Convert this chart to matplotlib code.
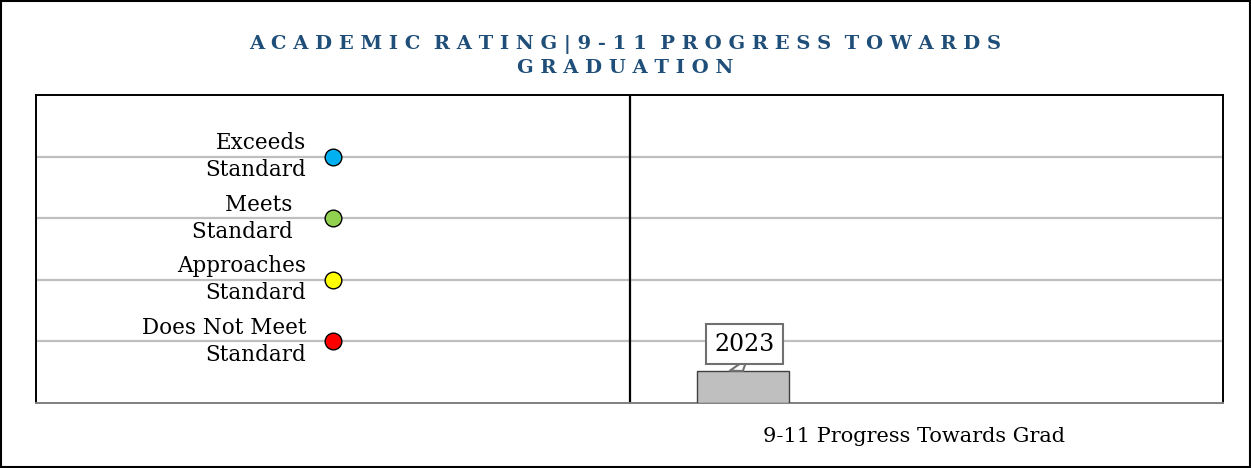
import matplotlib
matplotlib.use("Agg")
import matplotlib.pyplot as plt
from matplotlib.patches import Rectangle

# dane
ratings = ["Exceeds\nStandard", "Meets  \nStandard  ", "Approaches\nStandard", "Does Not Meet\nStandard"]
rating_levels = [4, 3, 2, 1]
rating_colors = ["#00B0F0", "#92D050", "#FFFF00", "#FF0000"]
category = "9-11 Progress Towards Grad"
years = ["2023"]
year_values = [0.52]
title_lines = ["ACADEMIC RATING|9-11 PROGRESS TOWARDS", "GRADUATION"]

plt.rcParams["font.family"] = ["DejaVu Serif"]


def spaced(s):
    # rozstrzelenie liter w tytule
    return "  ".join(" ".join(w) for w in s.split(" "))


fig = plt.figure(figsize=(12.51, 4.68), dpi=100)
ax = fig.add_axes([0.0288, 0.1389, 0.9488, 0.658])

ax.set_xlim(0, 2)
ax.set_ylim(0, 5)

# linie siatki
for lvl in rating_levels:
    ax.axhline(lvl, color="#BFBFBF", lw=1.6, zorder=1)

# podział na dwie części
ax.axvline(1, color="black", lw=1.6, zorder=2)

# legenda ocen
for lab, lvl, col in zip(ratings, rating_levels, rating_colors):
    ax.plot(0.5, lvl, "o", ms=12, mfc=col, mec="black", mew=1, zorder=4)
    ax.annotate(lab, (0.5, lvl), xytext=(-19, 0), textcoords="offset points",
                ha="right", va="center", ma="right", fontsize=15.5, linespacing=1.3)

# słupki lat
bar_pos = [1.191]
ax.bar(bar_pos, year_values, width=0.155, color="#BFBFBF", edgecolor="#404040", lw=1, zorder=3)
for x, v, y in zip(bar_pos, year_values, years):
    ax.annotate(y, (x, v), xytext=(1, 11), textcoords="offset points", ha="center", va="bottom",
                fontsize=17,
                bbox=dict(boxstyle="square,pad=0.35", fc="white", ec="#707070", lw=1.5),
                arrowprops=dict(arrowstyle="wedge,tail_width=0.9,shrink_factor=0.5",
                                fc="white", ec="#707070", lw=1.5,
                                shrinkA=0, shrinkB=0, relpos=(0.3, 0)),
                zorder=5)

ax.set_yticks([])
ax.set_xticks([1.479], [category])
ax.tick_params(axis="x", length=0, pad=17, labelsize=15)
for s in ["left", "top", "right"]:
    ax.spines[s].set_linewidth(1.4)
ax.spines["bottom"].set_color("#808080")
ax.spines["bottom"].set_linewidth(1.4)

# tytuł
fig.text(0.5, 0.905, spaced(title_lines[0]), ha="center", va="center", fontsize=14,
         fontweight="bold", color="#1F4E79")
fig.text(0.5, 0.855, spaced(title_lines[1]), ha="center", va="center", fontsize=14,
         fontweight="bold", color="#1F4E79")

# ramka wokół całości
fig.patches.append(Rectangle((0.001, 0.002), 0.998, 0.996, transform=fig.transFigure,
                             fill=False, ec="black", lw=1.5))

plt.savefig("out.png", dpi=100)
plt.close()
